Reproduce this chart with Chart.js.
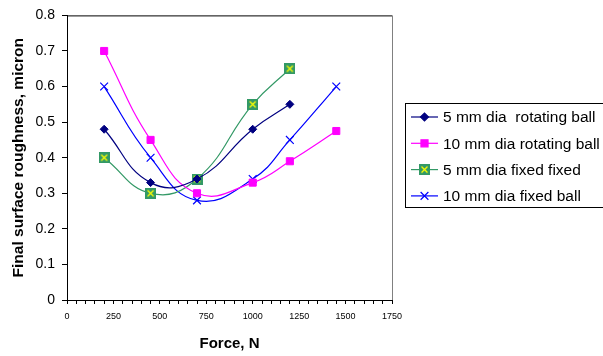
<!DOCTYPE html>
<html>
<head>
<meta charset="utf-8">
<script src="https://cdn.jsdelivr.net/npm/chart.js@4.4.1/dist/chart.umd.min.js"></script>
<style>
  body { margin: 0; background: #fff; }
  #wrap { width: 603px; height: 356px; }
</style>
</head>
<body>
<div id="wrap"><canvas id="roughness_chart" width="603" height="356"></canvas></div>
<script>
// values
const forceShort = [200, 450, 700, 1000, 1200];
const forceLong = [200, 450, 700, 1000, 1200, 1450];
const rot5 = [0.48, 0.33, 0.34, 0.48, 0.55];
const rot10 = [0.70, 0.45, 0.30, 0.33, 0.39, 0.475];
const fixed5 = [0.40, 0.30, 0.34, 0.55, 0.65];
const fixed10 = [0.60, 0.40, 0.28, 0.34, 0.45, 0.60];
const seriesNames = ['5 mm dia  rotating ball', '10 mm dia rotating ball', '5 mm dia fixed fixed', '10 mm dia fixed ball'];
const yTicks = [0, 0.1, 0.2, 0.3, 0.4, 0.5, 0.6, 0.7, 0.8];
const xLabelEvery = 250;

const FONT = '"Liberation Sans", Arial, sans-serif';

function pts(xs, ys) {
	return xs.map((x, i) => ({ x: x, y: ys[i] }));
}

// green square with yellow cross marker
const greenBox = document.createElement('canvas');
greenBox.width = 11; greenBox.height = 11;
(function () {
	const g = greenBox.getContext('2d');
	g.fillStyle = '#339966';
	g.fillRect(0, 0, 11, 11);
	g.strokeStyle = '#ffff00';
	g.lineWidth = 1.3;
	g.beginPath();
	g.moveTo(2.5, 2.5); g.lineTo(8.5, 8.5);
	g.moveTo(8.5, 2.5); g.lineTo(2.5, 8.5);
	g.stroke();
})();

const legendBox = {
	id: 'legendBox',
	afterDraw(chart) {
		const ctx = chart.ctx;
		const a = chart.chartArea;
		ctx.save();
		// plot border, top and right
		ctx.lineWidth = 1;
		ctx.strokeStyle = '#000';
		ctx.beginPath();
		ctx.moveTo(a.left, a.top + 0.5);
		ctx.lineTo(a.right, a.top + 0.5);
		ctx.stroke();
		ctx.strokeStyle = '#808080';
		ctx.beginPath();
		ctx.moveTo(a.right + 0.5, a.top);
		ctx.lineTo(a.right + 0.5, a.bottom);
		ctx.stroke();

		// legend
		ctx.strokeStyle = '#000';
		ctx.strokeRect(405.5, 103.5, 210, 104);
		ctx.font = '15.5px ' + FONT;
		ctx.textBaseline = 'middle';
		ctx.textAlign = 'left';
		chart.data.datasets.forEach((ds, i) => {
			const y = 117 + i * 26.3;
			ctx.strokeStyle = ds.borderColor;
			ctx.lineWidth = 1.2;
			ctx.beginPath();
			ctx.moveTo(411, y);
			ctx.lineTo(438, y);
			ctx.stroke();
			if (ds.pointStyle === greenBox) {
				ctx.drawImage(greenBox, 424.5 - 5.5, y - 5.5);
			} else {
				ctx.fillStyle = ds.pointBackgroundColor;
				ctx.strokeStyle = ds.pointBorderColor;
				Chart.helpers.drawPoint(ctx, {
					pointStyle: ds.pointStyle,
					radius: ds.pointRadius,
					rotation: 0,
					borderWidth: ds.pointBorderWidth
				}, 424.5, y);
			}
			ctx.fillStyle = '#000';
			ctx.fillText(ds.label, 443, y + 1);
		});
		ctx.restore();
	}
};

const ctx = document.getElementById('roughness_chart').getContext('2d');

new Chart(ctx, {
	type: 'line',
	data: {
		datasets: [
			{
				label: seriesNames[0],
				data: pts(forceShort, rot5),
				borderColor: '#000080',
				borderWidth: 1.2,
				pointStyle: 'rectRot',
				pointRadius: 4,
				pointBackgroundColor: '#000080',
				pointBorderColor: '#000080',
				pointBorderWidth: 1,
			},
			{
				label: seriesNames[1],
				data: pts(forceLong, rot10),
				borderColor: '#ff00ff',
				borderWidth: 1.2,
				pointStyle: 'rect',
				pointRadius: 5,
				pointBackgroundColor: '#ff00ff',
				pointBorderColor: '#ff00ff',
				pointBorderWidth: 1,
			},
			{
				label: seriesNames[2],
				data: pts(forceShort, fixed5),
				borderColor: '#339966',
				borderWidth: 1.2,
				pointStyle: greenBox,
				pointRadius: 5,
				pointBackgroundColor: '#339966',
				pointBorderColor: '#339966',
				pointBorderWidth: 1,
			},
			{
				label: seriesNames[3],
				data: pts(forceLong, fixed10),
				borderColor: '#0000ff',
				borderWidth: 1.2,
				pointStyle: 'crossRot',
				pointRadius: 5.5,
				pointBackgroundColor: '#0000ff',
				pointBorderColor: '#0000ff',
				pointBorderWidth: 1.2,
			},
		]
	},
	options: {
		responsive: false,
		animation: false,
		elements: { line: { tension: 0.45, fill: false } },
		layout: { padding: { left: 0, top: 15, right: 211, bottom: 0 } },
		plugins: {
			legend: { display: false },
			tooltip: { enabled: false }
		},
		scales: {
			x: {
				type: 'linear',
				min: 0,
				max: 1750,
				afterFit: (s) => { s.height = 56; },
				afterBuildTicks: (s) => {
					const t = [];
					for (let v = 0; v <= 1750; v += 50) t.push({ value: v });
					s.ticks = t;
				},
				grid: { drawOnChartArea: false, tickLength: 4, color: '#000', tickColor: '#000' },
				border: { color: '#000', width: 1 },
				ticks: {
					autoSkip: false,
					maxRotation: 0,
					padding: 7,
					color: '#000',
					font: { family: FONT, size: 9 },
					callback: (v) => (v % xLabelEvery === 0 ? String(v) : '')
				},
				title: {
					display: true,
					text: 'Force, N',
					color: '#000',
					padding: { top: 0, bottom: 3 },
					font: { family: FONT, size: 15, weight: 'bold' }
				}
			},
			y: {
				min: 0,
				max: 0.8,
				afterFit: (s) => { s.width = 67; },
				afterBuildTicks: (s) => { s.ticks = yTicks.map(v => ({ value: v })); },
				grid: { drawOnChartArea: false, tickLength: 5, color: '#000', tickColor: '#000' },
				border: { color: '#000', width: 1 },
				ticks: {
					padding: 7,
					color: '#000',
					font: { family: FONT, size: 14 },
					callback: (v) => String(+v.toFixed(1))
				},
				title: {
					display: true,
					text: 'Final surface roughness, micron',
					color: '#000',
					padding: { top: 9, bottom: 0 },
					font: { family: FONT, size: 15.5, weight: 'bold' }
				}
			}
		}
	},
	plugins: [legendBox]
});
</script>
</body>
</html>
